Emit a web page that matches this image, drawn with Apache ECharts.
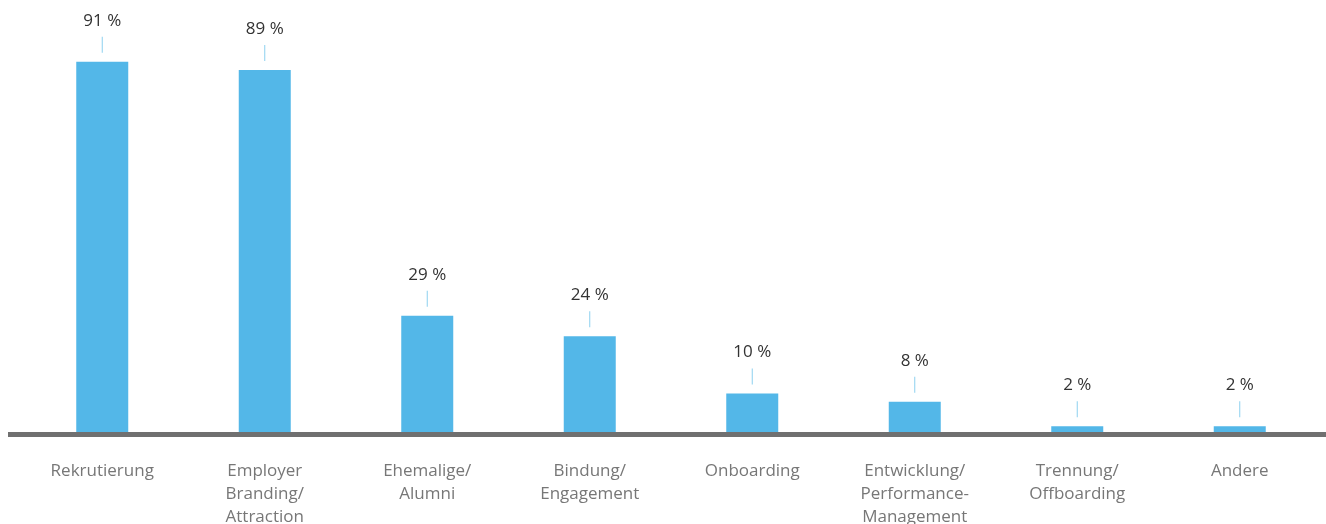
<!DOCTYPE html>
<html>
<head>
<meta charset="utf-8">
<script src="https://cdn.jsdelivr.net/npm/echarts@6/dist/echarts.min.js"></script>
<style>
  html, body { margin: 0; padding: 0; background: #fff; }
  #main { width: 1326px; height: 524px; }
</style>
</head>
<body>
<div id="main"></div>
<script>
// Kategorien und Werte (in %)
var categories = ['Rekrutierung', 'Employer\nBranding/\nAttraction', 'Ehemalige/\nAlumni', 'Bindung/\nEngagement',
  'Onboarding', 'Entwicklung/\nPerformance-\nManagement', 'Trennung/\nOffboarding', 'Andere'];
var values = [91, 89, 29, 24, 10, 8, 2, 2];

var font = '"Open Sans", "Noto Sans", sans-serif';
var myChart = echarts.init(document.getElementById('main'));

var option = {
  animation: false,
  grid: { left: 21, right: 5, top: 25, bottom: 89.5, outerBoundsMode: 'none' },
  xAxis: {
    type: 'category',
    data: categories,
    axisLine: { show: false },
    axisTick: { show: false },
    axisLabel: {
      margin: 25,
      color: '#777',
      fontFamily: font,
      fontSize: 17,
      lineHeight: 23,
      interval: 0
    }
  },
  yAxis: {
    type: 'value',
    min: 0,
    max: 100,
    show: false,
    splitLine: { show: false }
  },
  series: [{
    type: 'bar',
    data: values,
    barWidth: 52,
    itemStyle: { color: '#53b7e8' },
    label: {
      show: true,
      position: 'top',
      distance: 9,
      formatter: function (p) { return '{v|' + p.value + ' %}\n{l|}'; },
      rich: {
        v: { color: '#333', fontFamily: font, fontSize: 17, lineHeight: 32, align: 'center' },
        l: { width: 1, height: 16, backgroundColor: '#8dd0ef', align: 'center' }
      }
    }
  }]
};
myChart.setOption(option);

// Grundlinie über die ganze Breite
var y0 = myChart.convertToPixel({ yAxisIndex: 0 }, 0);
myChart.setOption({
  graphic: [{
    type: 'line',
    shape: { x1: 8, y1: y0, x2: 1326, y2: y0 },
    style: { stroke: '#707070', lineWidth: 5 },
    z: 100
  }]
});
</script>
</body>
</html>
